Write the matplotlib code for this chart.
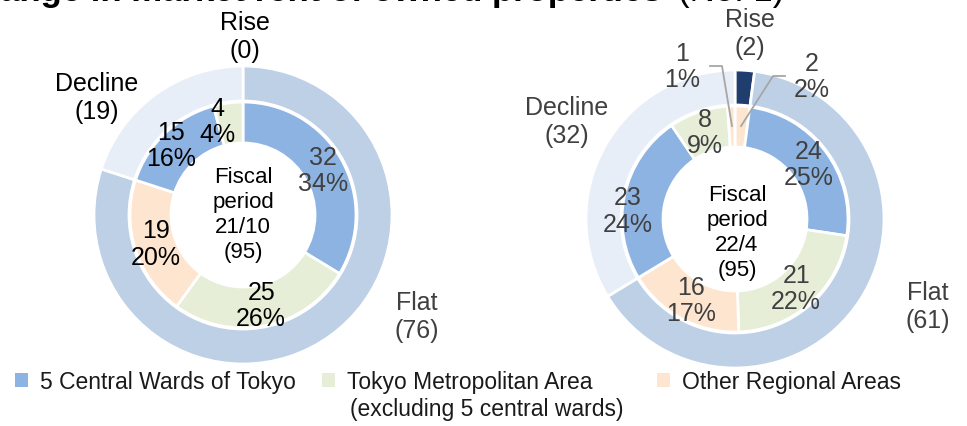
import matplotlib
matplotlib.use('Agg')
import numpy as np
import matplotlib.pyplot as plt
from matplotlib.patches import Patch

plt.rcParams['font.family'] = ['Liberation Sans', 'DejaVu Sans']

W, H = 967, 427

# Dades
categories = ['5 Central Wards of Tokyo', 'Tokyo Metropolitan Area', 'Other Regional Areas']
trends = ['Rise', 'Flat', 'Decline']

period_a = '21/10'
rise_a = [0, 0, 0]
flat_a = [32, 25, 19]
decline_a = [15, 4, 0]
rise_pct_a = [0, 0, 0]
flat_pct_a = [34, 26, 20]
decline_pct_a = [16, 4, 0]

period_b = '22/4'
rise_b = [0, 0, 2]
flat_b = [24, 21, 16]
decline_b = [23, 8, 1]
rise_pct_b = [0, 0, 2]
flat_pct_b = [25, 22, 17]
decline_pct_b = [24, 9, 1]

cat_colors = ['#8db3e2', '#e6eed8', '#fde5d0']
trend_colors = ['#1f3e6e', '#bdd0e6', '#e7eef8']
GRAY = '#404040'

fig = plt.figure(figsize=(W / 100, H / 100), dpi=100)
ax = fig.add_axes([0, 0, 1, 1])


def Y(y):
    return H - y


def donut(cx, cy, groups, pcts, period, cfg):
    totals = [sum(g) for g in groups]
    total = sum(totals)

    # anell exterior
    ov, oc = [], []
    for t, c in zip(totals, trend_colors):
        if t > 0:
            ov.append(t)
            oc.append(c)
    ax.pie(ov, colors=oc, radius=149, center=(cx, Y(cy)), startangle=90,
           counterclock=False, wedgeprops=dict(width=35, edgecolor='white', linewidth=2))

    # anell interior
    iv, ic, ip = [], [], []
    for g, p in zip(groups, pcts):
        for v, pc, c in zip(g, p, cat_colors):
            if v > 0:
                iv.append(v)
                ic.append(c)
                ip.append(pc)
    ax.pie(iv, colors=ic, radius=113, center=(cx, Y(cy)), startangle=90,
           counterclock=False, wedgeprops=dict(width=41, edgecolor='white', linewidth=2))

    # etiquetes interiors
    cum = np.cumsum([0] + iv)
    for i, v in enumerate(iv):
        mid = (cum[i] + cum[i + 1]) / 2 / total * 360
        ang = np.deg2rad(90 - mid)
        lx = cx + 92 * np.cos(ang)
        ly = cy - 92 * np.sin(ang)
        txt = f'{v}\n{ip[i]}%'
        col = cfg['inner_colors'][i]
        if i in cfg['leaders']:
            tx, ty, ex, side = cfg['leaders'][i]
            ax.text(tx, Y(ty), txt, ha='center', va='center', fontsize=18,
                    color=col, linespacing=1.12)
            ax.plot([ex, ex + side * 12, lx], [Y(ty), Y(ty), Y(cy - 93)],
                    color='#a6a6a6', lw=1.3)
            continue
        dx, dy = cfg['nudge'].get(i, (0, 0))
        ax.text(lx + dx, Y(ly + dy), txt, ha='center', va='center', fontsize=18,
                color=col, linespacing=1.12)

    # etiquetes exteriors
    for name, t, pos, col in zip(trends, totals, cfg['outer_pos'], cfg['outer_colors']):
        ax.text(pos[0], Y(pos[1]), f'{name}\n({t})', ha='center', va='center',
                fontsize=18, color=col, linespacing=1.2)

    ax.text(cfg['center'][0], Y(cfg['center'][1]), f'Fiscal\nperiod\n{period}\n({total})',
            ha='center', va='center', fontsize=16, color='black', linespacing=1.25)


cfg_a = dict(
    inner_colors=[GRAY, 'black', 'black', 'black', 'black'],
    nudge={3: (-9, -3), 4: (-13, -3)},
    leaders={},
    outer_pos=[(245, 37), (417, 317), (97, 98)],
    outer_colors=['black', GRAY, 'black'],
    center=(243, 215),
)
cfg_b = dict(
    inner_colors=[GRAY] * 7,
    nudge={4: (-17, 11)},
    leaders={0: (812, 77, 785, -1), 6: (682, 67, 710, 1)},
    outer_pos=[(750, 34), (928, 307), (567, 122)],
    outer_colors=[GRAY, GRAY, GRAY],
    center=(737, 233),
)

donut(243, 216, [rise_a, flat_a, decline_a], [rise_pct_a, flat_pct_a, decline_pct_a],
      period_a, cfg_a)
donut(735, 220, [rise_b, flat_b, decline_b], [rise_pct_b, flat_pct_b, decline_pct_b],
      period_b, cfg_b)

ax.set_xlim(0, W)
ax.set_ylim(0, H)
ax.set_aspect('auto')
ax.axis('off')

# Títol (retallat a dalt)
fig.text(-46 / W, 1 - 1 / H, 'Change in market rent of owned properties',
         fontsize=25, fontweight='bold', va='baseline', ha='left')
fig.text(678 / W, 1 - 1 / H, '(No. 1)', fontsize=25, va='baseline', ha='left')

# Llegenda
leg_x = [15, 322, 657]
for x, name, c in zip(leg_x, categories, cat_colors):
    fig.legend(handles=[Patch(facecolor=c, edgecolor='none')], labels=[name],
               loc='upper left', bbox_to_anchor=(x / W, 1 - 371 / H),
               frameon=False, fontsize=16.5, borderpad=0, borderaxespad=0,
               handlelength=0.55, handleheight=0.6, handletextpad=0.55,
               labelcolor='#1a1a1a')
fig.text(350 / W, 1 - 410 / H, '(excluding 5 central wards)', fontsize=16.5,
         color='#1a1a1a', va='center', ha='left')

fig.savefig('out.png', dpi=100)
